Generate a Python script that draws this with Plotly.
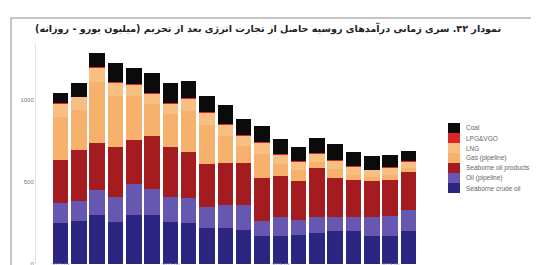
import plotly.graph_objects as go

months = ["2022-03", "2022-04", "2022-05", "2022-06", "2022-07", "2022-08", "2022-09",
          "2022-10", "2022-11", "2022-12", "2023-01", "2023-02", "2023-03", "2023-04",
          "2023-05", "2023-06", "2023-07", "2023-08", "2023-09", "2023-10"]
tick_labels = ["2022-03", "2022-09", "2023-03", "2023-09"]

seaborne_crude = [248, 258, 299, 254, 299, 299, 254, 248, 220, 220, 207, 171, 171, 177, 189, 201, 201, 171, 171, 201]
oil_pipeline = [122, 126, 152, 150, 187, 159, 150, 152, 124, 136, 148, 87, 112, 91, 93, 81, 81, 112, 118, 128]
seaborne_products = [264, 311, 285, 305, 270, 319, 311, 280, 265, 259, 262, 265, 250, 238, 301, 240, 226, 220, 224, 230]
gas_pipeline = [264, 246, 372, 317, 266, 197, 197, 254, 239, 165, 102, 147, 75, 65, 40, 55, 34, 25, 29, 25]
lng = [82, 77, 88, 82, 72, 66, 66, 77, 76, 71, 65, 71, 60, 55, 49, 55, 49, 44, 44, 38]
lpg = [3, 2, 3, 3, 2, 2, 2, 2, 2, 2, 2, 2, 2, 2, 2, 2, 2, 2, 2, 2]
coal = [57, 82, 85, 112, 98, 122, 122, 102, 95, 113, 96, 99, 93, 81, 91, 96, 88, 81, 77, 61]

series_names = ["Seaborne crude oil", "Oil (pipeline)", "Seaborne oil products",
                "Gas (pipeline)", "LNG", "LPG&VGO", "Coal"]
series_values = [seaborne_crude, oil_pipeline, seaborne_products, gas_pipeline, lng, lpg, coal]
colors = ["#2d2582", "#6657b0", "#a51c20", "#f6b26c", "#f7bf82", "#d9262a", "#0b0b0b"]

title_text = "نمودار ۴۲. سری زمانی درآمدهای روسیه حاصل از تجارت انرژی بعد از تحریم (میلیون یورو - روزانه)"

W, H = 539, 265
PL, PR, PT, PB = 28, 420, 35, 256  # plot area in pixels
PX_PER_UNIT = 0.164

fig = go.Figure()
for name, vals, col in zip(series_names, series_values, colors):
    fig.add_trace(go.Bar(x=months, y=vals, name=name, marker=dict(color=col, line=dict(width=0)),
                         showlegend=False))

def px_x(p):
    return (p - PL) / (PR - PL)

def px_y(p):
    return (PB - p) / (PB - PT)

shapes = []
annotations = []
# outer frame (top and left edges visible in the crop)
shapes.append(dict(type="line", xref="paper", yref="paper",
                   x0=px_x(3), x1=px_x(539), y0=px_y(10), y1=px_y(10),
                   line=dict(color="#8c8c8c", width=1), layer="above"))
shapes.append(dict(type="line", xref="paper", yref="paper",
                   x0=px_x(3), x1=px_x(3), y0=px_y(10), y1=px_y(265),
                   line=dict(color="#8c8c8c", width=1), layer="above"))
# manual legend (top to bottom = reversed stack order)
for i, (name, col) in enumerate(zip(series_names[::-1], colors[::-1])):
    y0 = 115 + 10 * i
    shapes.append(dict(type="rect", xref="paper", yref="paper",
                       x0=px_x(440), x1=px_x(452), y0=px_y(y0 + 10), y1=px_y(y0),
                       line=dict(width=0), fillcolor=col))
    annotations.append(dict(text=name, xref="paper", yref="paper", x=px_x(456), y=px_y(y0 + 5),
                            xanchor="left", yanchor="middle", showarrow=False,
                            font=dict(size=6.5, color="#666666", family="Liberation Sans")))

# title
annotations.append(dict(text="<b>" + title_text + "</b>", xref="paper", yref="paper",
                        x=px_x(260), y=px_y(20), xanchor="center", yanchor="middle",
                        showarrow=False, font=dict(size=9.6, color="#222222", family="DejaVu Sans")))

pitch_left = -0.5 - (43.3 - PL) / 18.32
pitch_right = 19.5 + (PR - 409.7) / 18.32
ymax = (PB - PT) / PX_PER_UNIT

fig.update_layout(
    width=W, height=H,
    margin=dict(l=PL, r=W - PR, t=PT, b=H - PB, pad=0),
    barmode="stack", bargap=0.15,
    paper_bgcolor="white", plot_bgcolor="white",
    shapes=shapes, annotations=annotations,
    xaxis=dict(type="category", range=[pitch_left, pitch_right], tickmode="array",
               tickvals=tick_labels, ticktext=tick_labels, showgrid=False, zeroline=False,
               showline=False, ticks="", automargin=False, ticklabelstandoff=-3,
               tickfont=dict(size=5, color="#888888", family="Liberation Sans")),
    yaxis=dict(range=[-3, ymax], tickvals=[0, 500, 1000], ticktext=["0", "500", "1000"],
               showgrid=False, zeroline=False, showline=True, linecolor="#e3e3e3", linewidth=1,
               ticks="", automargin=False,
               tickfont=dict(size=6, color="#777777", family="Liberation Sans")),
)

fig.write_html("out.html")
